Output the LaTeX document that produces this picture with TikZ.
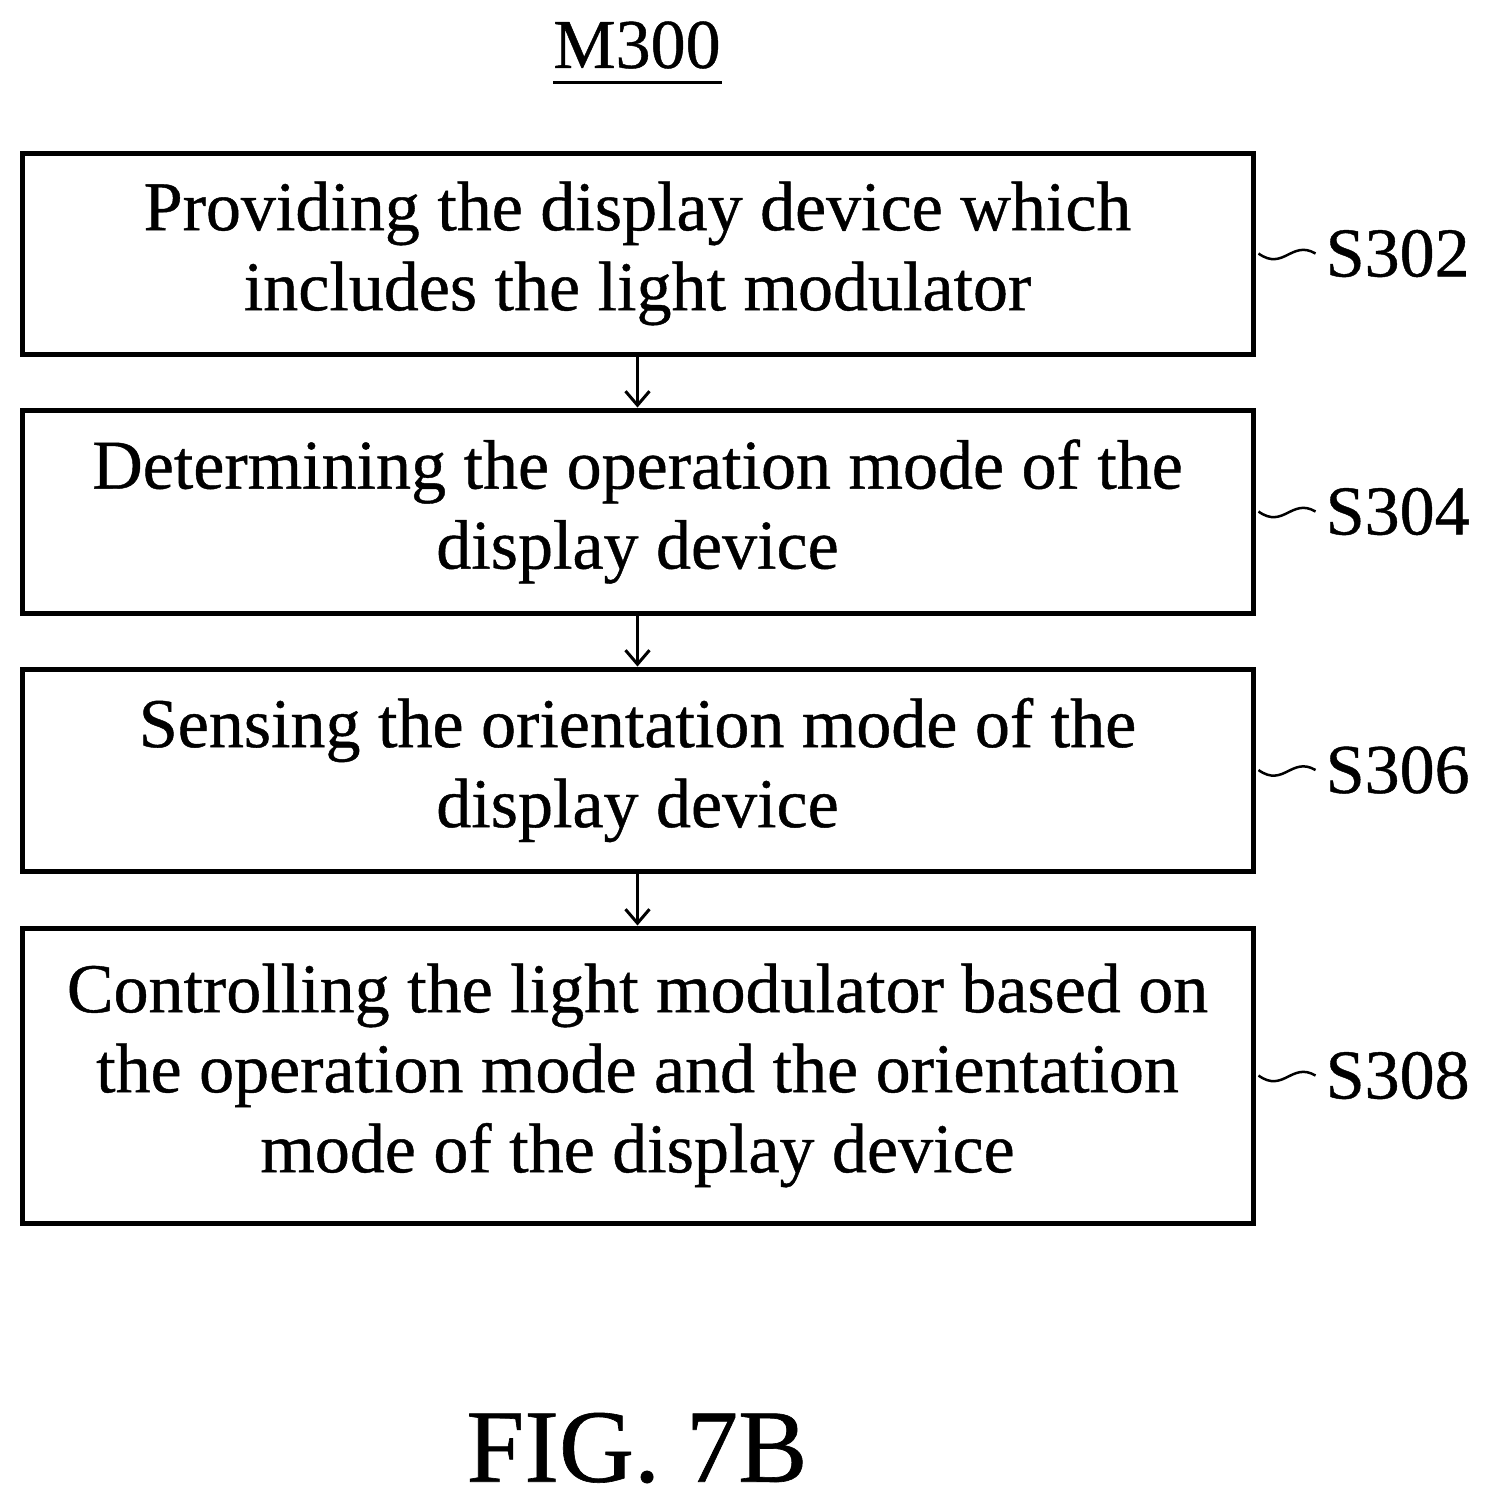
\documentclass[tikz,border=0pt]{standalone}
\usepackage{fontspec}
\setmainfont{Liberation Serif}[FakeBold=0.6]
\usetikzlibrary{arrows.meta}
\begin{document}
\begin{tikzpicture}[x=1pt,y=-1pt,
 stepbox/.style={draw,line width=5pt,minimum width=1231pt,align=center,font=\fontsize{70}{80}\selectfont,inner sep=0pt},
 lbl/.style={anchor=west,font=\fontsize{70}{80}\selectfont,inner sep=0pt},
 arr/.style={line width=3pt,-{Straight Barb[length=14pt,width=24pt,line width=3pt]}},
 tl/.style={line width=2.5pt}]
\useasboundingbox (0,0) rectangle (1487,1508);
\node[font=\fontsize{70}{80}\selectfont,inner sep=0pt] (m) at (637,45) {M300};
\draw[line width=3pt] (553,82) -- (722,82);
\node[stepbox,minimum height=201pt] (b1) at (637.5,253.5) {Providing the display device which\\includes the light modulator};
\node[stepbox,minimum height=203pt] (b2) at (637.5,511.5) {Determining the operation mode of the\\display device};
\node[stepbox,minimum height=202pt] (b3) at (637.5,770) {Sensing the orientation mode of the\\display device};
\node[stepbox,minimum height=295pt] (b4) at (637.5,1075.5) {Controlling the light modulator based on\\the operation mode and the orientation\\mode of the display device};
\draw[arr] (b1.south) -- (b2.north);
\draw[arr] (b2.south) -- (b3.north);
\draw[arr] (b3.south) -- (b4.north);
\foreach \b/\t in {b1/S302,b2/S304,b3/S306,b4/S308}{
 \coordinate (e\b) at ([xshift=60pt]\b.east);
 \draw[tl] ([xshift=3pt]\b.east) .. controls ([xshift=28pt,yshift=-18pt]\b.east) and ([xshift=36pt,yshift=14pt]\b.east) .. (e\b);
 \node[lbl] (l\b) at ([xshift=10pt]e\b) {\t};
}
\node[font=\fontsize{104}{120}\selectfont,inner sep=0pt] (fig) at (637,1448) {FIG. 7B};
\end{tikzpicture}
\end{document}
